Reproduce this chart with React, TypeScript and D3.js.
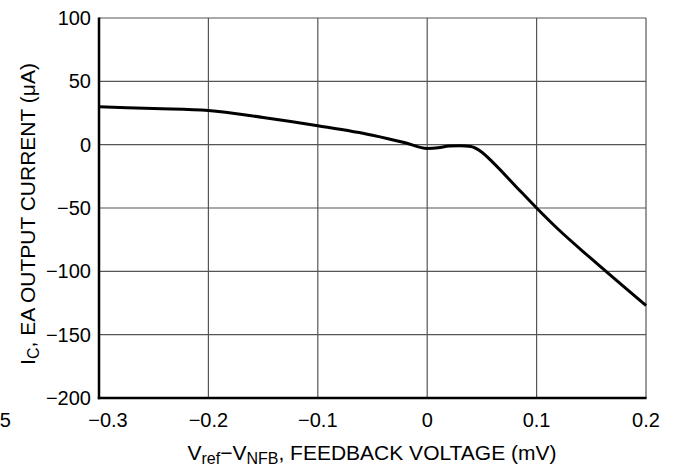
import React from "react";
import * as d3 from "d3";

const xTicks = [-0.3, -0.2, -0.1, 0, 0.1, 0.2];
const yTicks = [100, 50, 0, -50, -100, -150, -200];
const xTickLabels = ["−0.3", "−0.2", "−0.1", "0", "0.1", "0.2"];
const yTickLabels = ["100", "50", "0", "−50", "−100", "−150", "−200"];

const curveX = [-0.3, -0.25, -0.2, -0.15, -0.1, -0.05, -0.02, 0, 0.01, 0.02, 0.03, 0.04, 0.05, 0.06, 0.08, 0.1, 0.12, 0.15, 0.2];
const curveY = [30, 28.5, 27, 21.5, 15, 7.5, 1.5, -3, -2.5, -1, -0.8, -1.5, -6, -14, -32, -50, -67, -90, -127];

const W = 673;
const H = 472;
const left = 99;
const right = 646;
const top = 18;
const bottom = 398;
const font = "'Liberation Sans', Arial, Helvetica, sans-serif";

export default function App() {
  const x = d3.scaleLinear().domain([-0.3, 0.2]).range([left, right]);
  const y = d3.scaleLinear().domain([-200, 100]).range([bottom, top]);
  const pts: [number, number][] = curveX.map((v, i) => [v, curveY[i]]);
  const line = d3
    .line<[number, number]>()
    .x((d) => x(d[0]))
    .y((d) => y(d[1]))
    .curve(d3.curveMonotoneX);

  return (
    <svg
      width={W}
      height={H}
      style={{ position: "absolute", left: 0, top: 0, background: "#fff" }}
      fontFamily={font}
    >
      {/* grid */}
      {xTicks.map((t) => (
        <line key={"gx" + t} x1={x(t)} x2={x(t)} y1={top} y2={bottom} stroke="#555" strokeWidth={1.2} />
      ))}
      {yTicks.map((t) => (
        <line key={"gy" + t} x1={left} x2={right} y1={y(t)} y2={y(t)} stroke="#555" strokeWidth={1.2} />
      ))}
      {/* axes */}
      <line x1={left} x2={left} y1={top - 0.5} y2={bottom + 1.2} stroke="#000" strokeWidth={2.5} />
      <line x1={left - 1.2} x2={right + 0.6} y1={bottom} y2={bottom} stroke="#000" strokeWidth={2.5} />
      {/* curve */}
      <path d={line(pts) || ""} fill="none" stroke="#000" strokeWidth={3} strokeLinejoin="round" />
      {/* tick labels */}
      {xTicks.map((t, i) => (
        <text key={"tx" + t} x={x(t) + (i === 0 ? 9 : 0)} y={427} textAnchor="middle" fontSize={20} fill="#000">
          {xTickLabels[i]}
        </text>
      ))}
      <text x={11} y={427} textAnchor="end" fontSize={20} fill="#000">−0.35</text>
      {yTicks.map((t, i) => (
        <text key={"ty" + t} x={91} y={y(t) + 7} textAnchor="end" fontSize={20} fill="#000">
          {yTickLabels[i]}
        </text>
      ))}
      {/* x title */}
      <text x={372} y={460} textAnchor="middle" fontSize={21} fill="#000">
        V<tspan fontSize={16} dy={4}>ref</tspan>
        <tspan dy={-4}>−V</tspan>
        <tspan fontSize={16} dy={4}>NFB</tspan>
        <tspan dy={-4}>, FEEDBACK VOLTAGE (mV)</tspan>
      </text>
      {/* y title */}
      <text transform="translate(35,214) rotate(-90)" textAnchor="middle" fontSize={21} fill="#000">
        I<tspan fontSize={16} dy={4}>C</tspan>
        <tspan dy={-4}>, EA OUTPUT CURRENT (μA)</tspan>
      </text>
    </svg>
  );
}
